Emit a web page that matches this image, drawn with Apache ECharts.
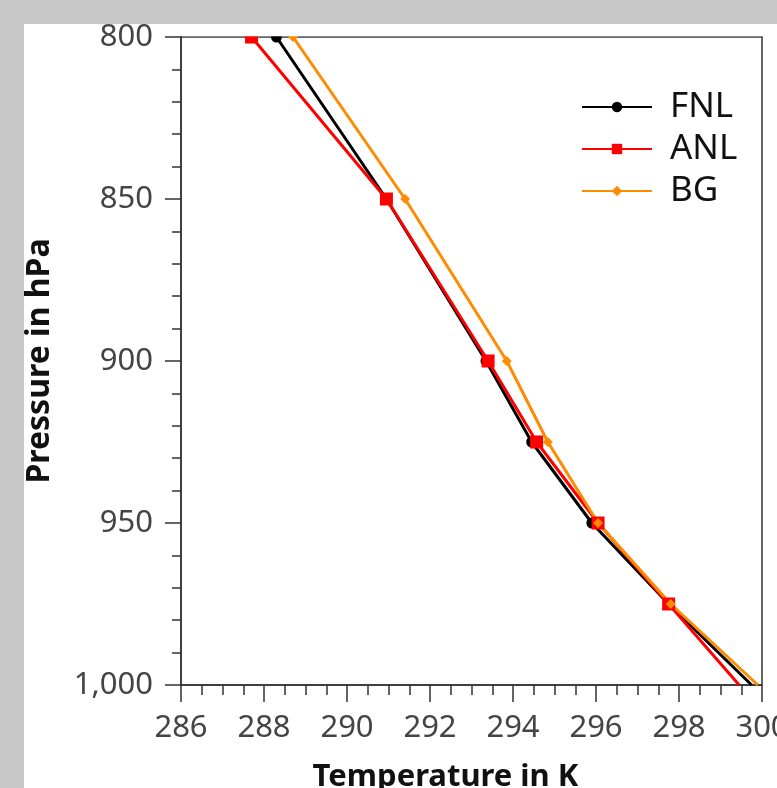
<!DOCTYPE html>
<html>
<head>
<meta charset="utf-8">
<script src="https://cdn.jsdelivr.net/npm/echarts@6/dist/echarts.min.js"></script>
<style>
html,body{margin:0;padding:0;width:777px;height:788px;overflow:hidden;background:#c6c7c6;}
#chart{position:absolute;left:24px;top:24px;width:753px;height:764px;background:#fff;}
</style>
</head>
<body>
<div id="chart"></div>
<script>
const pressure = [800, 850, 900, 925, 950, 975, 1000];
const fnl = [288.3, 290.95, 293.35, 294.45, 295.9, 297.75, 299.75];
const anl = [287.7, 290.95, 293.4, 294.57, 296.05, 297.75, 299.45];
const bg  = [288.7, 291.4, 293.85, 294.84, 296.05, 297.8, 299.9];
const seriesNames = ['FNL', 'ANL', 'BG'];
const xTicks = {min: 286, max: 300, interval: 2};
const yTicks = {min: 800, max: 1000, interval: 50};

const FONT = 'Noto Sans';
// last level (1000 hPa) has no visible marker in the reference
function pairs(t){ return t.map((v,i)=> i === t.length-1 ? {value:[v, pressure[i]], symbol:'none'} : [v, pressure[i]]); }

const G = {left: 157, top: 13, width: 581, height: 648};
const chart = echarts.init(document.getElementById('chart'), null, {renderer:'canvas'});
chart.setOption({
  animation: false,
  backgroundColor: '#fff',
  textStyle: {fontFamily: FONT},
  grid: {left: G.left, top: G.top, width: G.width, height: G.height, show: true,
         borderColor: '#333', borderWidth: 1.5, containLabel: false, outerBoundsMode: 'none'},
  legend: {
    orient: 'vertical', left: 552, top: 60,
    itemWidth: 70, itemHeight: 13, itemGap: 6,
    textStyle: {fontSize: 35, lineHeight: 36, color: '#111', fontFamily: FONT, padding: [0,0,0,13]},
    data: seriesNames
  },
  graphic: [{
    type: 'rect', z: 100, silent: true,
    shape: {x: G.left + 1, y: 0, width: G.width - 1, height: G.top - 0.8},
    style: {fill: '#fff'}
  }],
  xAxis: {
    type: 'value', min: xTicks.min, max: xTicks.max, interval: xTicks.interval,
    name: 'Temperature in K', nameLocation: 'middle', nameGap: 77,
    nameTextStyle: {fontSize: 31, fontWeight: 'bold', color: '#111', fontFamily: FONT, padding: [0, 52, 0, 0]},
    axisLine: {show: true, lineStyle: {color: '#333', width: 1.5}},
    axisTick: {show: true, inside: false, length: 17, lineStyle: {color: '#333', width: 1.5}},
    minorTick: {show: true, splitNumber: 4, length: 10, lineStyle: {color: '#333', width: 1.5}},
    axisLabel: {fontSize: 31, color: '#444', margin: 28, fontFamily: FONT},
    splitLine: {show: false}
  },
  yAxis: {
    type: 'value', inverse: true, min: yTicks.min, max: yTicks.max, interval: yTicks.interval,
    name: 'Pressure in hPa', nameLocation: 'middle', nameGap: 125,
    nameTextStyle: {fontSize: 32, fontWeight: 'bold', color: '#111', fontFamily: FONT},
    axisLine: {show: true, lineStyle: {color: '#333', width: 1.5}},
    axisTick: {show: true, inside: false, length: 16, lineStyle: {color: '#333', width: 1.5}},
    minorTick: {show: true, splitNumber: 5, length: 9, lineStyle: {color: '#333', width: 1.5}},
    axisLabel: {fontSize: 31, color: '#444', margin: 28, fontFamily: FONT,
      formatter: v => v.toLocaleString('en-US')},
    splitLine: {show: false}
  },
  series: [
    {name: 'FNL', type: 'line', data: pairs(fnl), color: '#000', symbol: 'circle', symbolSize: 11,
     lineStyle: {width: 3}, clip: true},
    {name: 'ANL', type: 'line', data: pairs(anl), color: '#ff0000', symbol: 'rect', symbolSize: 13,
     lineStyle: {width: 3}, clip: true},
    {name: 'BG', type: 'line', data: pairs(bg), color: '#ff8c00', symbol: 'diamond', symbolSize: 10,
     lineStyle: {width: 3}, clip: true}
  ]
});
</script>
</body>
</html>
